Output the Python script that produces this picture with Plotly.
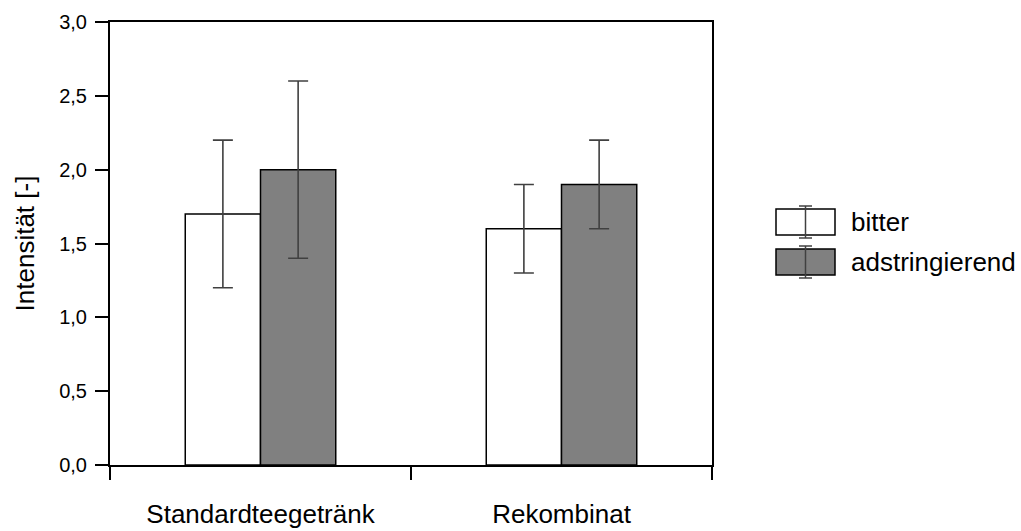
import plotly.graph_objects as go

# Sensory intensity ratings per drink and attribute
categories = ["Standardteegetränk", "Rekombinat"]
series_names = ["bitter", "adstringierend"]
bitter_mean = [1.7, 1.6]
bitter_err = [0.5, 0.3]
adstr_mean = [2.0, 1.9]
adstr_err = [0.6, 0.3]
y_ticks = [0.0, 0.5, 1.0, 1.5, 2.0, 2.5, 3.0]

FONT = "Liberation Sans, Arial, sans-serif"
fills = ["#ffffff", "#808080"]
err_color = "#404040"

x_pos = list(range(len(categories)))

fig = go.Figure()
for name, mean, err, fill in [
    (series_names[0], bitter_mean, bitter_err, fills[0]),
    (series_names[1], adstr_mean, adstr_err, fills[1]),
]:
    fig.add_trace(go.Bar(
        name=name,
        x=x_pos,
        y=mean,
        marker=dict(color=fill, line=dict(color="#000000", width=1.5)),
        error_y=dict(type="data", array=err, visible=True,
                     color=err_color, thickness=1.6, width=10),
        showlegend=False,
    ))

fig.update_layout(
    width=1021, height=531,
    margin=dict(l=110, r=309, t=22, b=66),
    paper_bgcolor="white", plot_bgcolor="white",
    barmode="group", bargap=0.5, bargroupgap=0,
    separators=",.",
    font=dict(family=FONT, size=20, color="#000000"),
    xaxis=dict(
        range=[-0.5, len(categories) - 0.5],
        tickvals=x_pos, ticktext=categories,
        ticks="", showgrid=False, zeroline=False, automargin=False,
        showline=True, linecolor="#000000", linewidth=2, mirror=True,
        tickfont=dict(size=26), ticklabelstandoff=25,
        minor=dict(tickvals=[-0.5, 0.5, 1.5], ticks="outside",
                   ticklen=13, tickwidth=1.5, tickcolor="#000000"),
    ),
    yaxis=dict(
        range=[0, 3], tickvals=y_ticks, tickformat=".1f",
        ticks="outside", ticklen=13, tickwidth=1.5, tickcolor="#000000",
        showgrid=False, zeroline=False, automargin=False,
        showline=True, linecolor="#000000", linewidth=2, mirror=True,
        tickfont=dict(size=20), ticklabelstandoff=4,
        title=dict(text="Intensität [-]", font=dict(size=26), standoff=17),
    ),
)

# Legend keys: filled box with an error-bar glyph, drawn in paper space
plot_w = 1021 - 110 - 309
plot_h = 531 - 22 - 66


def px_x(px):
    return (px - 110) / plot_w


def px_y(py):
    return (531 - 66 - py) / plot_h


legend_rows = [(series_names[0], fills[0], 222), (series_names[1], fills[1], 262)]
for name, fill, cy in legend_rows:
    fig.add_shape(type="rect", xref="paper", yref="paper",
                  x0=px_x(776), x1=px_x(835), y0=px_y(cy + 13), y1=px_y(cy - 13),
                  fillcolor=fill, line=dict(color="#000000", width=1.5))
    fig.add_shape(type="line", xref="paper", yref="paper",
                  x0=px_x(805.5), x1=px_x(805.5), y0=px_y(cy + 16), y1=px_y(cy - 16),
                  line=dict(color=err_color, width=1.5))
    for cap in (cy - 16, cy + 16):
        fig.add_shape(type="line", xref="paper", yref="paper",
                      x0=px_x(799), x1=px_x(812), y0=px_y(cap), y1=px_y(cap),
                      line=dict(color=err_color, width=1.5))
    fig.add_annotation(xref="paper", yref="paper", x=px_x(849), y=px_y(cy),
                       text=name, showarrow=False, xanchor="left", yanchor="middle",
                       font=dict(size=26, family=FONT, color="#000000"))

fig.write_html("out.html")
